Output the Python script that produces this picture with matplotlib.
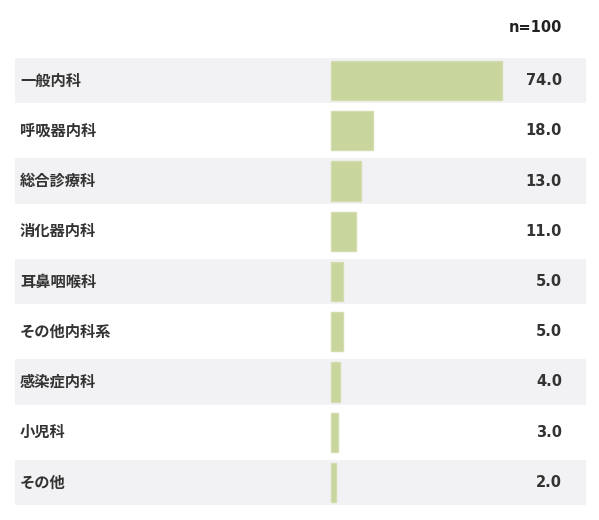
import matplotlib
matplotlib.use("Agg")
from matplotlib import pyplot as plt

# データ
categories = ["一般内科", "呼吸器内科", "総合診療科", "消化器内科", "耳鼻咽喉科",
              "その他内科系", "感染症内科", "小児科", "その他"]
values = [74.0, 18.0, 13.0, 11.0, 5.0, 5.0, 4.0, 3.0, 2.0]
n_label = "n=100"

plt.rcParams['font.family'] = ['Noto Sans CJK JP', 'DejaVu Sans']

fig = plt.figure(figsize=(5.99, 5.2), dpi=100)
ax = fig.add_axes([0, 0, 1, 1])

# 画素 -> データ座標 (0 は x=331px, 100 は x=562px)
px = 2.31
x0 = 331
pitch = 50.25
y0 = 80.5
ax.set_xlim(-x0 / px, (599 - x0) / px)
ax.set_ylim((520 - y0) / pitch, -y0 / pitch)
ax.axis("off")

rows = range(len(categories))
band_left = (15 - x0) / px
band_right = (586 - x0) / px
for i in rows:
    if i % 2 == 0:
        ax.barh(i, band_right - band_left, left=band_left, height=0.9,
                color="#f2f2f4", zorder=0)

ax.barh(list(rows), values, height=0.78, color="#c8d59c",
        edgecolor="#d3ddb0", linewidth=1, zorder=2)

label_x = (20 - x0) / px
for i, (c, v) in enumerate(zip(categories, values)):
    ax.text(label_x, i, c, ha="left", va="center", fontsize=11,
            fontweight="bold", color="#333333")
    ax.text(100, i, f"{v:.1f}", ha="right", va="center", fontsize=10.5,
            fontweight="bold", color="#333333", family="DejaVu Sans")

ax.text(100, (27 - y0) / pitch, n_label, ha="right", va="center",
        fontsize=10.5, fontweight="bold", color="#222222", family="DejaVu Sans")

fig.savefig("out.png", dpi=100, facecolor="white")
